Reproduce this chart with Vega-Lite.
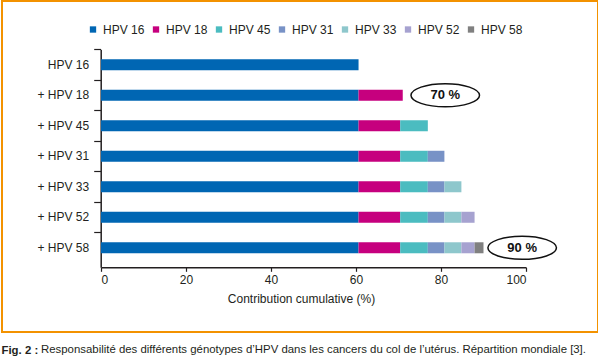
{
  "$schema": "https://vega.github.io/schema/vega-lite/v6.json",
  "width": 596,
  "height": 331,
  "padding": {"left": 1, "top": 1, "right": 0, "bottom": 0},
  "autosize": {"type": "pad"},
  "background": "white",
  "title": {
    "text": "Responsabilité des différents génotypes d’HPV dans les cancers du col de l’utérus. Répartition mondiale [3].",
    "orient": "bottom", "anchor": "start", "frame": "group", "dx": 39, "offset": -11.5,
    "baseline": "top", "fontSize": 11.4, "fontWeight": "normal", "color": "#231f20", "font": "Liberation Sans"
  },
  "config": {
    "view": {"stroke": "#f39200", "strokeWidth": 2},
    "font": "Liberation Sans"
  },
  "datasets": {
    "bars": [
      {"row": "HPV 16", "type": "HPV 16", "value": 60.6, "rank": 1},
      {"row": "+ HPV 18", "type": "HPV 16", "value": 60.6, "rank": 1},
      {"row": "+ HPV 18", "type": "HPV 18", "value": 10.4, "rank": 2},
      {"row": "+ HPV 45", "type": "HPV 16", "value": 60.6, "rank": 1},
      {"row": "+ HPV 45", "type": "HPV 18", "value": 9.8, "rank": 2},
      {"row": "+ HPV 45", "type": "HPV 45", "value": 6.5, "rank": 3},
      {"row": "+ HPV 31", "type": "HPV 16", "value": 60.6, "rank": 1},
      {"row": "+ HPV 31", "type": "HPV 18", "value": 9.8, "rank": 2},
      {"row": "+ HPV 31", "type": "HPV 45", "value": 6.5, "rank": 3},
      {"row": "+ HPV 31", "type": "HPV 31", "value": 3.9, "rank": 4},
      {"row": "+ HPV 33", "type": "HPV 16", "value": 60.6, "rank": 1},
      {"row": "+ HPV 33", "type": "HPV 18", "value": 9.8, "rank": 2},
      {"row": "+ HPV 33", "type": "HPV 45", "value": 6.5, "rank": 3},
      {"row": "+ HPV 33", "type": "HPV 31", "value": 3.9, "rank": 4},
      {"row": "+ HPV 33", "type": "HPV 33", "value": 4.0, "rank": 5},
      {"row": "+ HPV 52", "type": "HPV 16", "value": 60.6, "rank": 1},
      {"row": "+ HPV 52", "type": "HPV 18", "value": 9.8, "rank": 2},
      {"row": "+ HPV 52", "type": "HPV 45", "value": 6.5, "rank": 3},
      {"row": "+ HPV 52", "type": "HPV 31", "value": 3.9, "rank": 4},
      {"row": "+ HPV 52", "type": "HPV 33", "value": 4.0, "rank": 5},
      {"row": "+ HPV 52", "type": "HPV 52", "value": 3.1, "rank": 6},
      {"row": "+ HPV 58", "type": "HPV 16", "value": 60.6, "rank": 1},
      {"row": "+ HPV 58", "type": "HPV 18", "value": 9.8, "rank": 2},
      {"row": "+ HPV 58", "type": "HPV 45", "value": 6.5, "rank": 3},
      {"row": "+ HPV 58", "type": "HPV 31", "value": 3.9, "rank": 4},
      {"row": "+ HPV 58", "type": "HPV 33", "value": 4.0, "rank": 5},
      {"row": "+ HPV 58", "type": "HPV 52", "value": 3.1, "rank": 6},
      {"row": "+ HPV 58", "type": "HPV 58", "value": 2.1, "rank": 7}
    ],
    "notes": [
      {"row": "+ HPV 18", "x": 81.0, "label": "70 %"},
      {"row": "+ HPV 58", "x": 99.1, "label": "90 %"}
    ]
  },
  "layer": [
    {
      "data": {"name": "bars"},
      "mark": {"type": "bar", "size": 11},
      "encoding": {
        "y": {
          "field": "row", "type": "nominal",
          "sort": ["HPV 16", "+ HPV 18", "+ HPV 45", "+ HPV 31", "+ HPV 33", "+ HPV 52", "+ HPV 58"],
          "scale": {"range": [48.5, 266.3], "paddingInner": 0, "paddingOuter": 0.07, "align": 0},
          "axis": {
            "title": "Fig. 2 :", "titleAngle": 0, "titleAlign": "left", "titleBaseline": "top",
            "titleX": -99.7, "titleY": 343, "titleFontSize": 11.4, "titleFontWeight": "bold", "titleColor": "#231f20",
            "offset": -98.7, "bandPosition": 0, "tickSize": 7, "labelPadding": 5,
            "labelFontSize": 12, "labelColor": "#231f20", "domainColor": "#231f20", "tickColor": "#231f20",
            "domainWidth": 1.5, "tickWidth": 1.2, "grid": false
          }
        },
        "x": {
          "field": "value", "type": "quantitative", "stack": "zero",
          "scale": {"domain": [0, 100], "range": [99, 524], "nice": false, "zero": true},
          "axis": {
            "title": "Contribution cumulative (%)", "offset": -64.7, "values": [0, 20, 40, 60, 80, 100],
            "tickSize": 4, "labelPadding": 3, "labelFontSize": 12, "labelColor": "#231f20",
            "titleFontSize": 12, "titleFontWeight": "normal", "titleColor": "#231f20", "titlePadding": 8, "titleX": 299,
            "domainColor": "#231f20", "tickColor": "#231f20", "domainWidth": 1.5, "tickWidth": 1.2, "grid": false
          }
        },
        "color": {
          "field": "type", "type": "nominal",
          "scale": {
            "domain": ["HPV 16", "HPV 18", "HPV 45", "HPV 31", "HPV 33", "HPV 52", "HPV 58"],
            "range": ["#0066b3", "#c6007e", "#4bbcc0", "#7892c6", "#8ec7cc", "#a6a2d0", "#808080"]
          },
          "legend": {
            "title": null, "orient": "none", "legendX": 85, "legendY": 22.5, "direction": "horizontal",
            "symbolType": "square", "symbolSize": 40, "symbolStrokeWidth": 0, "labelFontSize": 12,
            "labelColor": "#231f20", "columnPadding": 5, "labelOffset": 4, "padding": 0
          }
        },
        "order": {"field": "rank", "type": "quantitative"}
      }
    },
    {
      "data": {"name": "notes"},
      "mark": {
        "type": "point",
        "shape": "M-1,0C-1,-0.1857,-0.5523,-0.3363,0,-0.3363C0.5523,-0.3363,1,-0.1857,1,0C1,0.1857,0.5523,0.3363,0,0.3363C-0.5523,0.3363,-1,0.1857,-1,0Z",
        "size": 4700, "filled": true, "fill": "white", "stroke": "#111111", "strokeWidth": 1.5, "opacity": 1
      },
      "encoding": {
        "x": {"field": "x", "type": "quantitative"},
        "y": {"field": "row", "type": "nominal", "sort": ["HPV 16", "+ HPV 18", "+ HPV 45", "+ HPV 31", "+ HPV 33", "+ HPV 52", "+ HPV 58"]}
      }
    },
    {
      "data": {"name": "notes"},
      "mark": {"type": "text", "fontSize": 13, "fontWeight": "bold", "color": "#111111"},
      "encoding": {
        "x": {"field": "x", "type": "quantitative"},
        "y": {"field": "row", "type": "nominal", "sort": ["HPV 16", "+ HPV 18", "+ HPV 45", "+ HPV 31", "+ HPV 33", "+ HPV 52", "+ HPV 58"]},
        "text": {"field": "label"}
      }
    }
  ]
}
